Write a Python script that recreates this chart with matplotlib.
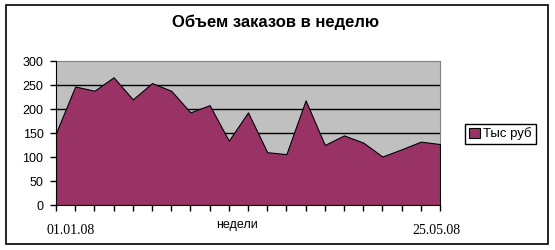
import matplotlib.pyplot as plt
import matplotlib.transforms as mtransforms
from matplotlib.patches import Rectangle
import numpy as np

# weekly order volume, thousands of rubles
weeks = list(range(21))
values = [150, 247, 238, 266, 220, 254, 238, 193, 208, 134, 193,
          110, 106, 218, 125, 145, 130, 101, 116, 132, 127]
date_labels = ['01.01.08'] + [''] * 19 + ['25.05.08']
y_ticks = [0, 50, 100, 150, 200, 250, 300]

plt.rcParams['font.family'] = ['Liberation Sans', 'DejaVu Sans']

fig = plt.figure(figsize=(5.55, 2.5), dpi=100)
ax = fig.add_axes([56 / 555, 45 / 250, 384 / 555, 144 / 250])

ax.set_facecolor('#c0c0c0')
ax.fill_between(weeks, values, 0, facecolor='#993366', edgecolor='black',
                linewidth=0.8, label='Тыс руб', zorder=3)
for v in y_ticks[1:-1]:
    ax.axhline(v, color='black', linewidth=1, zorder=2)

ax.set_xlim(weeks[0], weeks[-1])
ax.set_ylim(0, 300)
ax.set_yticks(y_ticks)
ax.tick_params(axis='y', length=4, width=1, pad=5, labelsize=9)
ax.set_xticks(weeks)
ax.set_xticklabels(date_labels, family='Liberation Serif', fontsize=10)
ax.tick_params(axis='x', length=4, width=1, pad=10)

# Excel puts the first date a bit to the right of its tick
lbls = ax.get_xticklabels()
lbls[0].set_transform(lbls[0].get_transform() +
                      mtransforms.ScaledTranslation(0.15, 0, fig.dpi_scale_trans))
lbls[-1].set_transform(lbls[-1].get_transform() +
                       mtransforms.ScaledTranslation(-0.04, 0, fig.dpi_scale_trans))

for side in ['top', 'right']:
    ax.spines[side].set_color('#808080')
for side in ['left', 'bottom']:
    ax.spines[side].set_color('black')
    ax.spines[side].set_zorder(4)

ax.set_xlabel('недели', fontsize=9)
ax.xaxis.set_label_coords(0.471, -0.14)
ax.xaxis.label.set_va('center')

fig.text(276 / 555, 1 - 22 / 250, 'Объем заказов в неделю', ha='center', va='center',
         fontsize=12, fontweight='bold')

ax.legend(loc='center left', bbox_to_anchor=(465 / 555, 1 - 134 / 250),
          bbox_transform=fig.transFigure, fancybox=False, edgecolor='black',
          framealpha=1, fontsize=9.5, handlelength=0.8, handleheight=0.8,
          handletextpad=0.3, borderpad=0.3, borderaxespad=0)
ax.get_legend().get_frame().set_linewidth(1)

fig.add_artist(Rectangle((6 / 555, 6 / 250), 542 / 555, 239 / 250,
                         transform=fig.transFigure, fill=False,
                         edgecolor='black', linewidth=1.2))

fig.savefig('out.png', dpi=100)
